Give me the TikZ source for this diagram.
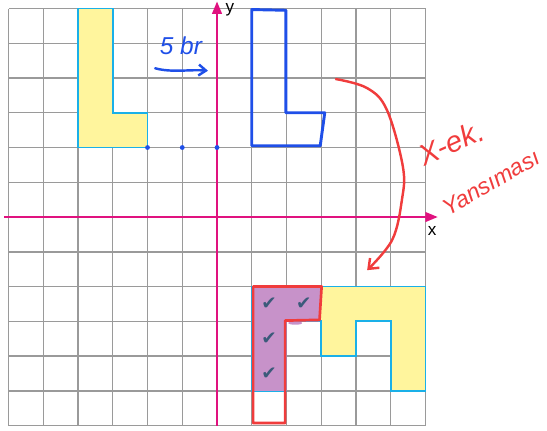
\documentclass[tikz,border=0pt]{standalone}
\usepackage{fontspec}
\setmainfont{Liberation Sans}
\newfontfamily\symfont{DejaVu Sans}
\usetikzlibrary{arrows.meta}

\definecolor{gridgray}{HTML}{9A9A9A}
\definecolor{axismag}{HTML}{E0127F}
\definecolor{shapefill}{HTML}{FFF59D}
\definecolor{shapeline}{HTML}{1AB0E8}
\definecolor{penblue}{HTML}{1F4FE8}
\definecolor{penred}{HTML}{F03C3C}
\definecolor{marker}{HTML}{C792C9}
\definecolor{tickcol}{HTML}{3B5A7A}

\begin{document}
\begin{tikzpicture}[x=1cm,y=1cm,
    axis/.style={line width=1.2pt,axismag,-{Triangle[length=10pt,width=8pt]}},
    preimage/.style={fill=shapefill,draw=shapeline,line width=1.6pt},
    pen/.style={line width=2.4pt,line join=round,line cap=round},
    hand/.style={font=\fontsize{#1}{#1}\selectfont\itshape},
    tick/.style={tickcol,font=\symfont\fontsize{15}{15}\selectfont}]
  \useasboundingbox (-6.245,-6.13) rectangle (9.496,6.245);

  % grid and axes
  \draw[gridgray,line width=1.2pt] (-6,-6) grid (6,6);
  \coordinate (xl) at (-6.12,0);
  \coordinate (xr) at (6.35,0);
  \coordinate (yb) at (0,-6);
  \coordinate (yt) at (0,6.2);
  \draw[axis] (xl) -- (xr);
  \draw[axis] (yb) -- (yt);
  \node[font=\fontsize{14}{16}\selectfont] (xlab) at (6.19,-0.40) {x};
  \node[font=\fontsize{14}{16}\selectfont,inner sep=1pt] (ylab) at (0.37,5.96) {y};

  % original L
  \draw[preimage] (-4,6) -- (-3,6) -- (-3,3) -- (-2,3) -- (-2,2) -- (-4,2) -- cycle;
  \foreach \d in {-2,-1,0}
    \fill[penblue] (\d,2) circle (0.07);

  % translated L
  \draw[pen,penblue] (1,5.97) -- (1.98,5.95) -- (1.98,3.0) -- (3.1,3.0)
    -- (2.97,2.05) -- (1,2.05) -- cycle;
  \node[hand=20,penblue] (shift) at (-1.04,4.92) {5 br};
  \coordinate (sa) at (-1.78,4.28);
  \coordinate (sb) at (-0.26,4.21);
  \draw[pen,penblue,line width=2pt,-{Straight Barb[length=6pt,width=9pt]}]
    (sa) .. controls (-1.3,4.15) and (-0.8,4.25) .. (sb);

  % lower figure
  \draw[preimage] (1,-2) -- (6,-2) -- (6,-5) -- (5,-5) -- (5,-3) -- (4,-3)
    -- (4,-4) -- (3,-4) -- (3,-3) -- (2,-3) -- (2,-5) -- (1,-5) -- cycle;
  \fill[marker] (1.02,-2) -- (3,-2) -- (2.95,-3) -- (2,-3) -- (2,-5) -- (1.02,-5) -- cycle;
  \fill[marker] (2.25,-3.05) ellipse (0.2 and 0.05);
  \draw[pen,penred,line width=2.2pt] (1.04,-2) -- (3.01,-2) -- (2.95,-2.96) -- (1.96,-2.98)
    -- (1.96,-5.93) -- (1.04,-5.93) -- cycle;
  \node[tick] (t1) at (1.5,-2.5) {✔};
  \node[tick] (t2) at (2.5,-2.5) {✔};
  \node[tick] (t3) at (1.5,-3.5) {✔};
  \node[tick] (t4) at (1.5,-4.5) {✔};

  % reflection arrow
  \coordinate (ra) at (3.42,3.97);
  \coordinate (rb) at (4.32,-1.53);
  \draw[pen,penred,line width=2pt,-{Straight Barb[length=7pt,width=11pt]}]
    plot[smooth,tension=0.6] coordinates {(ra) (4.32,3.71) (4.89,3.08) (5.35,1.44)
      (5.32,0.49) (5.04,-0.66) (rb)};
  \node[hand=24,penred,rotate=24,anchor=base west,inner sep=0pt] (axlab) at (5.95,1.45) {X-ek.};
  \node[hand=19,penred,rotate=30,anchor=base west,inner sep=0pt] (refl) at (6.65,0.02) {Yansıması};
\end{tikzpicture}
\end{document}
